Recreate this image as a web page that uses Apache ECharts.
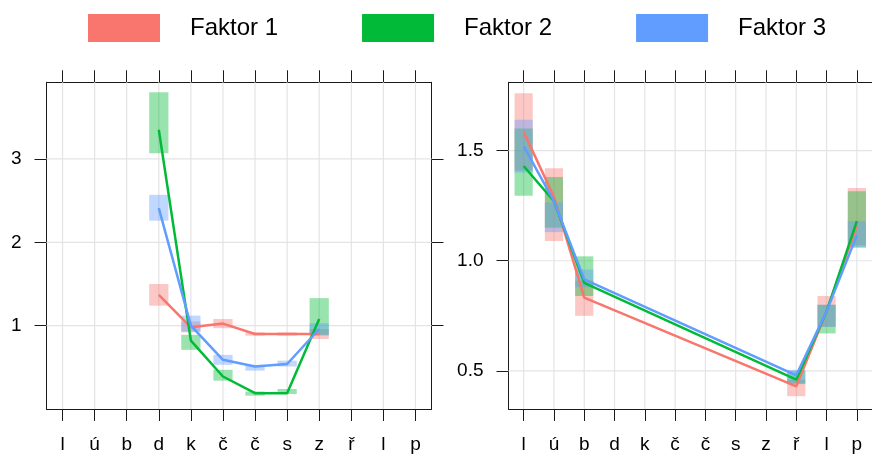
<!DOCTYPE html>
<html>
<head>
<meta charset="utf-8">
<script src="https://cdn.jsdelivr.net/npm/echarts@6/dist/echarts.min.js"></script>
<style>
  html, body { margin: 0; padding: 0; background: #fff; }
  #chart { width: 872px; height: 454px; }
</style>
</head>
<body>
<div id="chart"></div>
<script>
// Phoneme categories along the x axis (positions 1..12)
const kategorie = ['l', 'ú', 'b', 'd', 'k', 'č', 'č', 's', 'z', 'ř', 'l', 'p'];
const faktory = ['Faktor 1', 'Faktor 2', 'Faktor 3'];

// Left panel: categories d..z
const xLevy = [4, 5, 6, 7, 8, 9];
const f1Levy = [1.37, 0.98, 1.025, 0.90, 0.90, 0.90];
const f1LevyDol = [1.24, 0.92, 0.97, 0.88, 0.88, 0.84];
const f1LevyHor = [1.50, 1.05, 1.08, 0.92, 0.92, 0.96];
const f2Levy = [3.35, 0.82, 0.39, 0.19, 0.19, 1.08];
const f2LevyDol = [3.07, 0.71, 0.34, 0.16, 0.18, 0.89];
const f2LevyHor = [3.80, 0.89, 0.47, 0.21, 0.24, 1.33];
const f3Levy = [2.41, 1.00, 0.59, 0.51, 0.54, 0.96];
const f3LevyDol = [2.26, 0.93, 0.53, 0.46, 0.51, 0.88];
const f3LevyHor = [2.57, 1.12, 0.65, 0.53, 0.58, 1.03];

// Right panel: categories l, ú, b, ř, l, p
const xPravy = [1, 2, 3, 10, 11, 12];
const f1Pravy = [1.585, 1.29, 0.833, 0.43, 0.77, 1.16];
const f1PravyDol = [1.41, 1.09, 0.75, 0.385, 0.70, 1.07];
const f1PravyHor = [1.76, 1.42, 0.91, 0.46, 0.84, 1.33];
const f2Pravy = [1.43, 1.27, 0.90, 0.46, 0.77, 1.18];
const f2PravyDol = [1.295, 1.15, 0.84, 0.44, 0.67, 1.06];
const f2PravyHor = [1.60, 1.38, 1.02, 0.50, 0.80, 1.315];
const f3Pravy = [1.52, 1.27, 0.915, 0.48, 0.77, 1.115];
const f3PravyDol = [1.40, 1.13, 0.88, 0.445, 0.70, 1.06];
const f3PravyHor = [1.64, 1.265, 0.96, 0.505, 0.80, 1.18];

// Tick labels
const yTickyLevy = [1, 2, 3];
const yTickyPravy = [0.5, 1.0, 1.5];
const xTicky = [1, 2, 3, 4, 5, 6, 7, 8, 9, 10, 11, 12];

const barvy = ['#F8766D', '#00BA38', '#619CFF'];
const barvyPruhl = ['rgba(248,118,109,0.4)', 'rgba(0,186,56,0.4)', 'rgba(97,156,255,0.4)'];
const pismo = '"Liberation Sans", Arial, sans-serif';

const chart = echarts.init(document.getElementById('chart'));

function xOsa(grid, pos, labels) {
  return {
    type: 'value', gridIndex: grid, position: pos, min: 0.5, max: 12.5,
    axisLine: { show: true, onZero: false, lineStyle: { color: '#1a1a1a', width: 1 } },
    axisTick: { show: true, customValues: xTicky, length: 12, lineStyle: { color: '#1a1a1a', width: 1 } },
    axisLabel: labels ? {
      show: true, customValues: xTicky, margin: 26,
      formatter: v => kategorie[Math.round(v) - 1],
      color: '#000', fontSize: 19, fontFamily: pismo
    } : { show: false },
    splitLine: { show: false }
  };
}

function yOsa(grid, pos, min, max, ticks, labels, fmt) {
  return {
    type: 'value', gridIndex: grid, position: pos, min: min, max: max,
    axisLine: { show: true, onZero: false, lineStyle: { color: '#1a1a1a', width: 1 } },
    axisTick: { show: true, customValues: ticks, length: 12, lineStyle: { color: '#1a1a1a', width: 1 } },
    axisLabel: labels ? {
      show: true, customValues: ticks, margin: 25, formatter: fmt,
      color: '#000', fontSize: 19, fontFamily: pismo
    } : { show: false },
    splitLine: { show: false }
  };
}

// Light reference grid drawn behind the data in each panel
function mrizka(xi, yi, yTicks) {
  const data = xTicky.map(x => [0, x]).concat(yTicks.map(y => [1, y]));
  return {
    type: 'custom', xAxisIndex: xi, yAxisIndex: yi, z: 1, silent: true,
    data: data,
    renderItem: (params, api) => {
      const cs = params.coordSys;
      const kind = api.value(0), v = api.value(1);
      let shape;
      if (kind === 0) {
        const px = api.coord([v, 0])[0];
        shape = { x1: px, y1: cs.y, x2: px, y2: cs.y + cs.height };
      } else {
        const py = api.coord([1, v])[1];
        shape = { x1: cs.x, y1: py, x2: cs.x + cs.width, y2: py };
      }
      return { type: 'line', shape: shape, style: { stroke: '#e4e4e4', lineWidth: 1.2 } };
    }
  };
}

function obdelniky(name, i, xi, yi, xs, lo, hi) {
  return {
    type: 'custom', name: name, xAxisIndex: xi, yAxisIndex: yi, z: 2,
    itemStyle: { color: barvy[i] },
    data: xs.map((x, k) => [x, lo[k], hi[k]]),
    renderItem: (params, api) => {
      const x = api.value(0);
      const a = api.coord([x - 0.3, api.value(2)]);
      const b = api.coord([x + 0.3, api.value(1)]);
      return {
        type: 'rect',
        shape: { x: a[0], y: a[1], width: b[0] - a[0], height: b[1] - a[1] },
        style: { fill: barvyPruhl[i] }
      };
    }
  };
}

function cara(name, i, xi, yi, xs, vals) {
  return {
    type: 'line', name: name, xAxisIndex: xi, yAxisIndex: yi, z: 2,
    data: xs.map((x, k) => [x, vals[k]]),
    showSymbol: false, symbol: 'none',
    itemStyle: { color: barvy[i] },
    lineStyle: { color: barvy[i], width: 2.5 }
  };
}

const levy = [
  [f1Levy, f1LevyDol, f1LevyHor],
  [f2Levy, f2LevyDol, f2LevyHor],
  [f3Levy, f3LevyDol, f3LevyHor]
];
const pravy = [
  [f1Pravy, f1PravyDol, f1PravyHor],
  [f2Pravy, f2PravyDol, f2PravyHor],
  [f3Pravy, f3PravyDol, f3PravyHor]
];

const series = [mrizka(0, 0, yTickyLevy), mrizka(2, 2, yTickyPravy)];
levy.forEach((s, i) => {
  series.push(obdelniky(faktory[i], i, 0, 0, xLevy, s[1], s[2]));
  series.push(cara(faktory[i], i, 0, 0, xLevy, s[0]));
});
pravy.forEach((s, i) => {
  series.push(obdelniky(faktory[i], i, 2, 2, xPravy, s[1], s[2]));
  series.push(cara(faktory[i], i, 2, 2, xPravy, s[0]));
});

chart.setOption({
  animation: false,
  backgroundColor: '#fff',
  legend: {
    top: 14, left: 88, padding: 0,
    icon: 'rect', itemWidth: 72, itemHeight: 28, itemGap: 84,
    selectedMode: false,
    textStyle: { fontSize: 24, fontFamily: pismo, color: '#000', padding: [0, 0, 0, 25] },
    data: faktory.map((n, i) => ({ name: n, itemStyle: { color: barvy[i] } }))
  },
  grid: [
    { left: 46.5, top: 82.3, width: 385, height: 326.7 },
    { left: 508.5, top: 82.3, width: 364.5, height: 326.7 }
  ],
  xAxis: [
    xOsa(0, 'bottom', true), xOsa(0, 'top', false),
    xOsa(1, 'bottom', true), xOsa(1, 'top', false)
  ],
  yAxis: [
    yOsa(0, 'left', 0, 3.92, yTickyLevy, true, v => String(v)),
    yOsa(0, 'right', 0, 3.92, yTickyLevy, false),
    yOsa(1, 'left', 0.327, 1.81, yTickyPravy, true, v => v.toFixed(1)),
    yOsa(1, 'right', 0.327, 1.81, yTickyPravy, false)
  ],
  series: series
});
</script>
</body>
</html>
